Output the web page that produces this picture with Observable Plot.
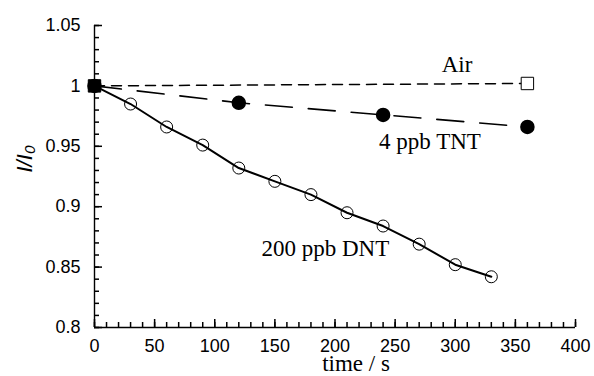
<!DOCTYPE html>
<html><head><meta charset="utf-8">
<script src="https://cdn.jsdelivr.net/npm/d3@7"></script>
<script src="https://cdn.jsdelivr.net/npm/@observablehq/plot@0.6"></script>
<style>body{margin:0;background:#fff}</style>
</head><body><div id="chart"></div>
<script>
const dntTime = [0, 30, 60, 90, 120, 150, 180, 210, 240, 270, 300, 330];
const dntValue = [1.0, 0.985, 0.966, 0.951, 0.932, 0.921, 0.910, 0.895, 0.884, 0.869, 0.852, 0.842];
const tntTime = [0, 120, 240, 360];
const tntValue = [1.0, 0.986, 0.976, 0.966];
const airTime = [0, 360];
const airValue = [1.0, 1.002];

const xMajorTicks = [0, 50, 100, 150, 200, 250, 300, 350, 400];
const xTickLabels = ["0", "50", "100", "150", "200", "250", "300", "350", "400"];
const xMinorTicks = d3.range(0, 401, 10);
const yMajorTicks = [0.8, 0.85, 0.9, 0.95, 1, 1.05];
const yTickLabels = ["0.8", "0.85", "0.9", "0.95", "1", "1.05"];
const yMinorTicks = d3.range(80, 106).map(v => v / 100);

const seriesLabels = ["Air", "4 ppb TNT", "200 ppb DNT"];
const labelX = [301.5, 279, 192];
const labelY = [1.0178, 0.954, 0.8654];

const dnt = dntTime.map((t, i) => ({t, v: dntValue[i]}));
const tnt = tntTime.map((t, i) => ({t, v: tntValue[i]}));
const air = airTime.map((t, i) => ({t, v: airValue[i]}));

const serif = "'Liberation Serif', 'Times New Roman', serif";

const W = 594, H = 376, ML = 94, MR = 19, MT = 25, MB = 49;
const xDomain = [0, 400], yDomain = [0.8, 1.05];
const frameW = W - ML - MR, frameH = H - MT - MB;
const minorLen = 5, majorLen = 8;

const chart = Plot.plot({
  width: W, height: H,
  marginLeft: ML, marginRight: MR, marginTop: MT, marginBottom: MB,
  style: {fontFamily: "'Liberation Sans', Arial, sans-serif", fontSize: "18px"},
  x: {domain: xDomain},
  y: {domain: yDomain},
  marks: [
    Plot.axisX(xMajorTicks, {tickSize: 0, tickPadding: 12, tickFormat: d => xTickLabels[xMajorTicks.indexOf(d)], label: null, fill: "black"}),
    Plot.axisY(yMajorTicks, {tickSize: 0, tickPadding: 14, tickFormat: d => yTickLabels[yMajorTicks.indexOf(d)], label: null, fill: "black"}),
    Plot.line(air, {x: "t", y: "v", stroke: "black", strokeWidth: 1.5, strokeDasharray: "10,7"}),
    Plot.line(tnt, {x: "t", y: "v", stroke: "black", strokeWidth: 1.6, strokeDasharray: "27,16"}),
    Plot.line(dnt, {x: "t", y: "v", stroke: "black", strokeWidth: 2}),
    Plot.dot(dnt, {x: "t", y: "v", r: 6, stroke: "black", fill: "none", strokeWidth: 1}),
    Plot.dot(air, {filter: d => d.t !== 0, x: "t", y: "v", symbol: "square", r: 7, stroke: "black", strokeWidth: 1, fill: "white"}),
    Plot.dot(air, {filter: d => d.t === 0, x: "t", y: "v", symbol: "square", r: 7, stroke: "black", strokeWidth: 1, fill: "black"}),
    Plot.dot(tnt, {x: "t", y: "v", r: 6.5, fill: "black", stroke: "black"}),
    Plot.text(seriesLabels, {x: (d, i) => labelX[i], y: (d, i) => labelY[i], text: d => d, fontFamily: serif, fontSize: 23, fill: "black"}),
    Plot.text(["time / s"], {text: d => d, frameAnchor: "bottom", dx: 21, dy: 43, fontFamily: serif, fontSize: 23, fill: "black"}),
    Plot.text(["I/I\u2080"], {text: d => d, frameAnchor: "left", dx: -70, dy: -4, rotate: -90, fontStyle: "italic", fontSize: 22, fill: "black"}),
    Plot.ruleX([xDomain[0]], {stroke: "black", strokeWidth: 1.4}),
    Plot.ruleY([yDomain[0]], {stroke: "black", strokeWidth: 1.4}),
    Plot.ruleX(xMinorTicks, {x: d => d, insetTop: frameH - minorLen, stroke: "black", strokeWidth: 1.5}),
    Plot.ruleX(xMajorTicks, {x: d => d, insetTop: frameH - majorLen, stroke: "black", strokeWidth: 1.5}),
    Plot.ruleY(yMinorTicks, {y: d => d, insetRight: frameW - minorLen, stroke: "black", strokeWidth: 1.5}),
    Plot.ruleY(yMajorTicks, {y: d => d, insetRight: frameW - majorLen, stroke: "black", strokeWidth: 1.5})
  ]
});
document.getElementById("chart").appendChild(chart);
</script>
</body></html>
